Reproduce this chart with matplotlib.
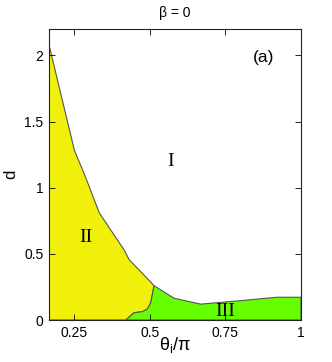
import numpy as np
import matplotlib.pyplot as plt
from matplotlib.patches import Polygon

# upper boundary of regions II / III (separates from region I)
top_x = [1/6, 0.251, 0.284, 0.333, 0.415, 0.432, 0.475, 0.514, 0.58, 0.668, 0.799, 0.92, 1.0]
top_d = [2.08, 1.28, 1.10, 0.81, 0.53, 0.455, 0.354, 0.26, 0.165, 0.12, 0.146, 0.172, 0.172]
n_yellow = 8  # points of top boundary belonging to region II

# boundary between II and III, from top down to the axis
mid_x = [0.514, 0.51, 0.503, 0.492, 0.476, 0.448, 0.421]
mid_d = [0.26, 0.21, 0.13, 0.083, 0.063, 0.055, 0.0]

xticks = [0.25, 0.5, 0.75, 1]
xticklabels = ['0.25', '0.5', '0.75', '1']
yticks = [0, 0.5, 1, 1.5, 2]
yticklabels = ['0', '0.5', '1', '1.5', '2']

yellow = '#f0f00a'
green = '#66ff00'
edge = '#555555'

plt.rcParams['font.family'] = ['Liberation Sans', 'DejaVu Sans']
plt.rcParams['mathtext.default'] = 'regular'

fig = plt.figure(figsize=(3.32, 3.62), dpi=100)
ax = fig.add_axes([49/332, 42/362, 252/332, 291/362])

x0 = top_x[0]
yel = list(zip(top_x[:n_yellow], top_d[:n_yellow])) + list(zip(mid_x, mid_d)) + [(x0, 0)]
grn = list(zip(mid_x[::-1], mid_d[::-1])) + list(zip(top_x[n_yellow - 1:], top_d[n_yellow - 1:])) + [(1.0, 0)]
ax.add_patch(Polygon(yel, closed=True, fc=yellow, ec=edge, lw=0.8))
ax.add_patch(Polygon(grn, closed=True, fc=green, ec=edge, lw=0.8))

ax.set_xlim(x0, 1.0)
ax.set_ylim(0, 2.2)
ax.set_xticks(xticks)
ax.set_xticklabels(xticklabels)
ax.set_yticks(yticks)
ax.set_yticklabels(yticklabels)
ax.tick_params(direction='in', top=True, right=True, length=4, width=0.6,
               labelsize=10, pad=4)
for s in ax.spines.values():
    s.set_linewidth(0.8)
    s.set_color('#222222')

ax.text(0.569, 1.2, 'I', family='Liberation Serif', fontsize=14, ha='center', va='center')
ax.text(0.289, 0.62, 'II', family='Liberation Serif', fontsize=14, ha='center', va='center')
ax.text(0.75, 0.063, 'III', family='Liberation Serif', fontsize=14, ha='center', va='center')
ax.text(0.875, 1.985, '(a)', fontsize=12.5, ha='center', va='center')

ax.set_title('β = 0', fontsize=10, pad=9)
ax.set_xlabel(r'$\theta_i/\pi$', fontsize=13, labelpad=-3)
ax.set_ylabel('d', fontsize=12, labelpad=4)

fig.savefig('out.png', dpi=100)
